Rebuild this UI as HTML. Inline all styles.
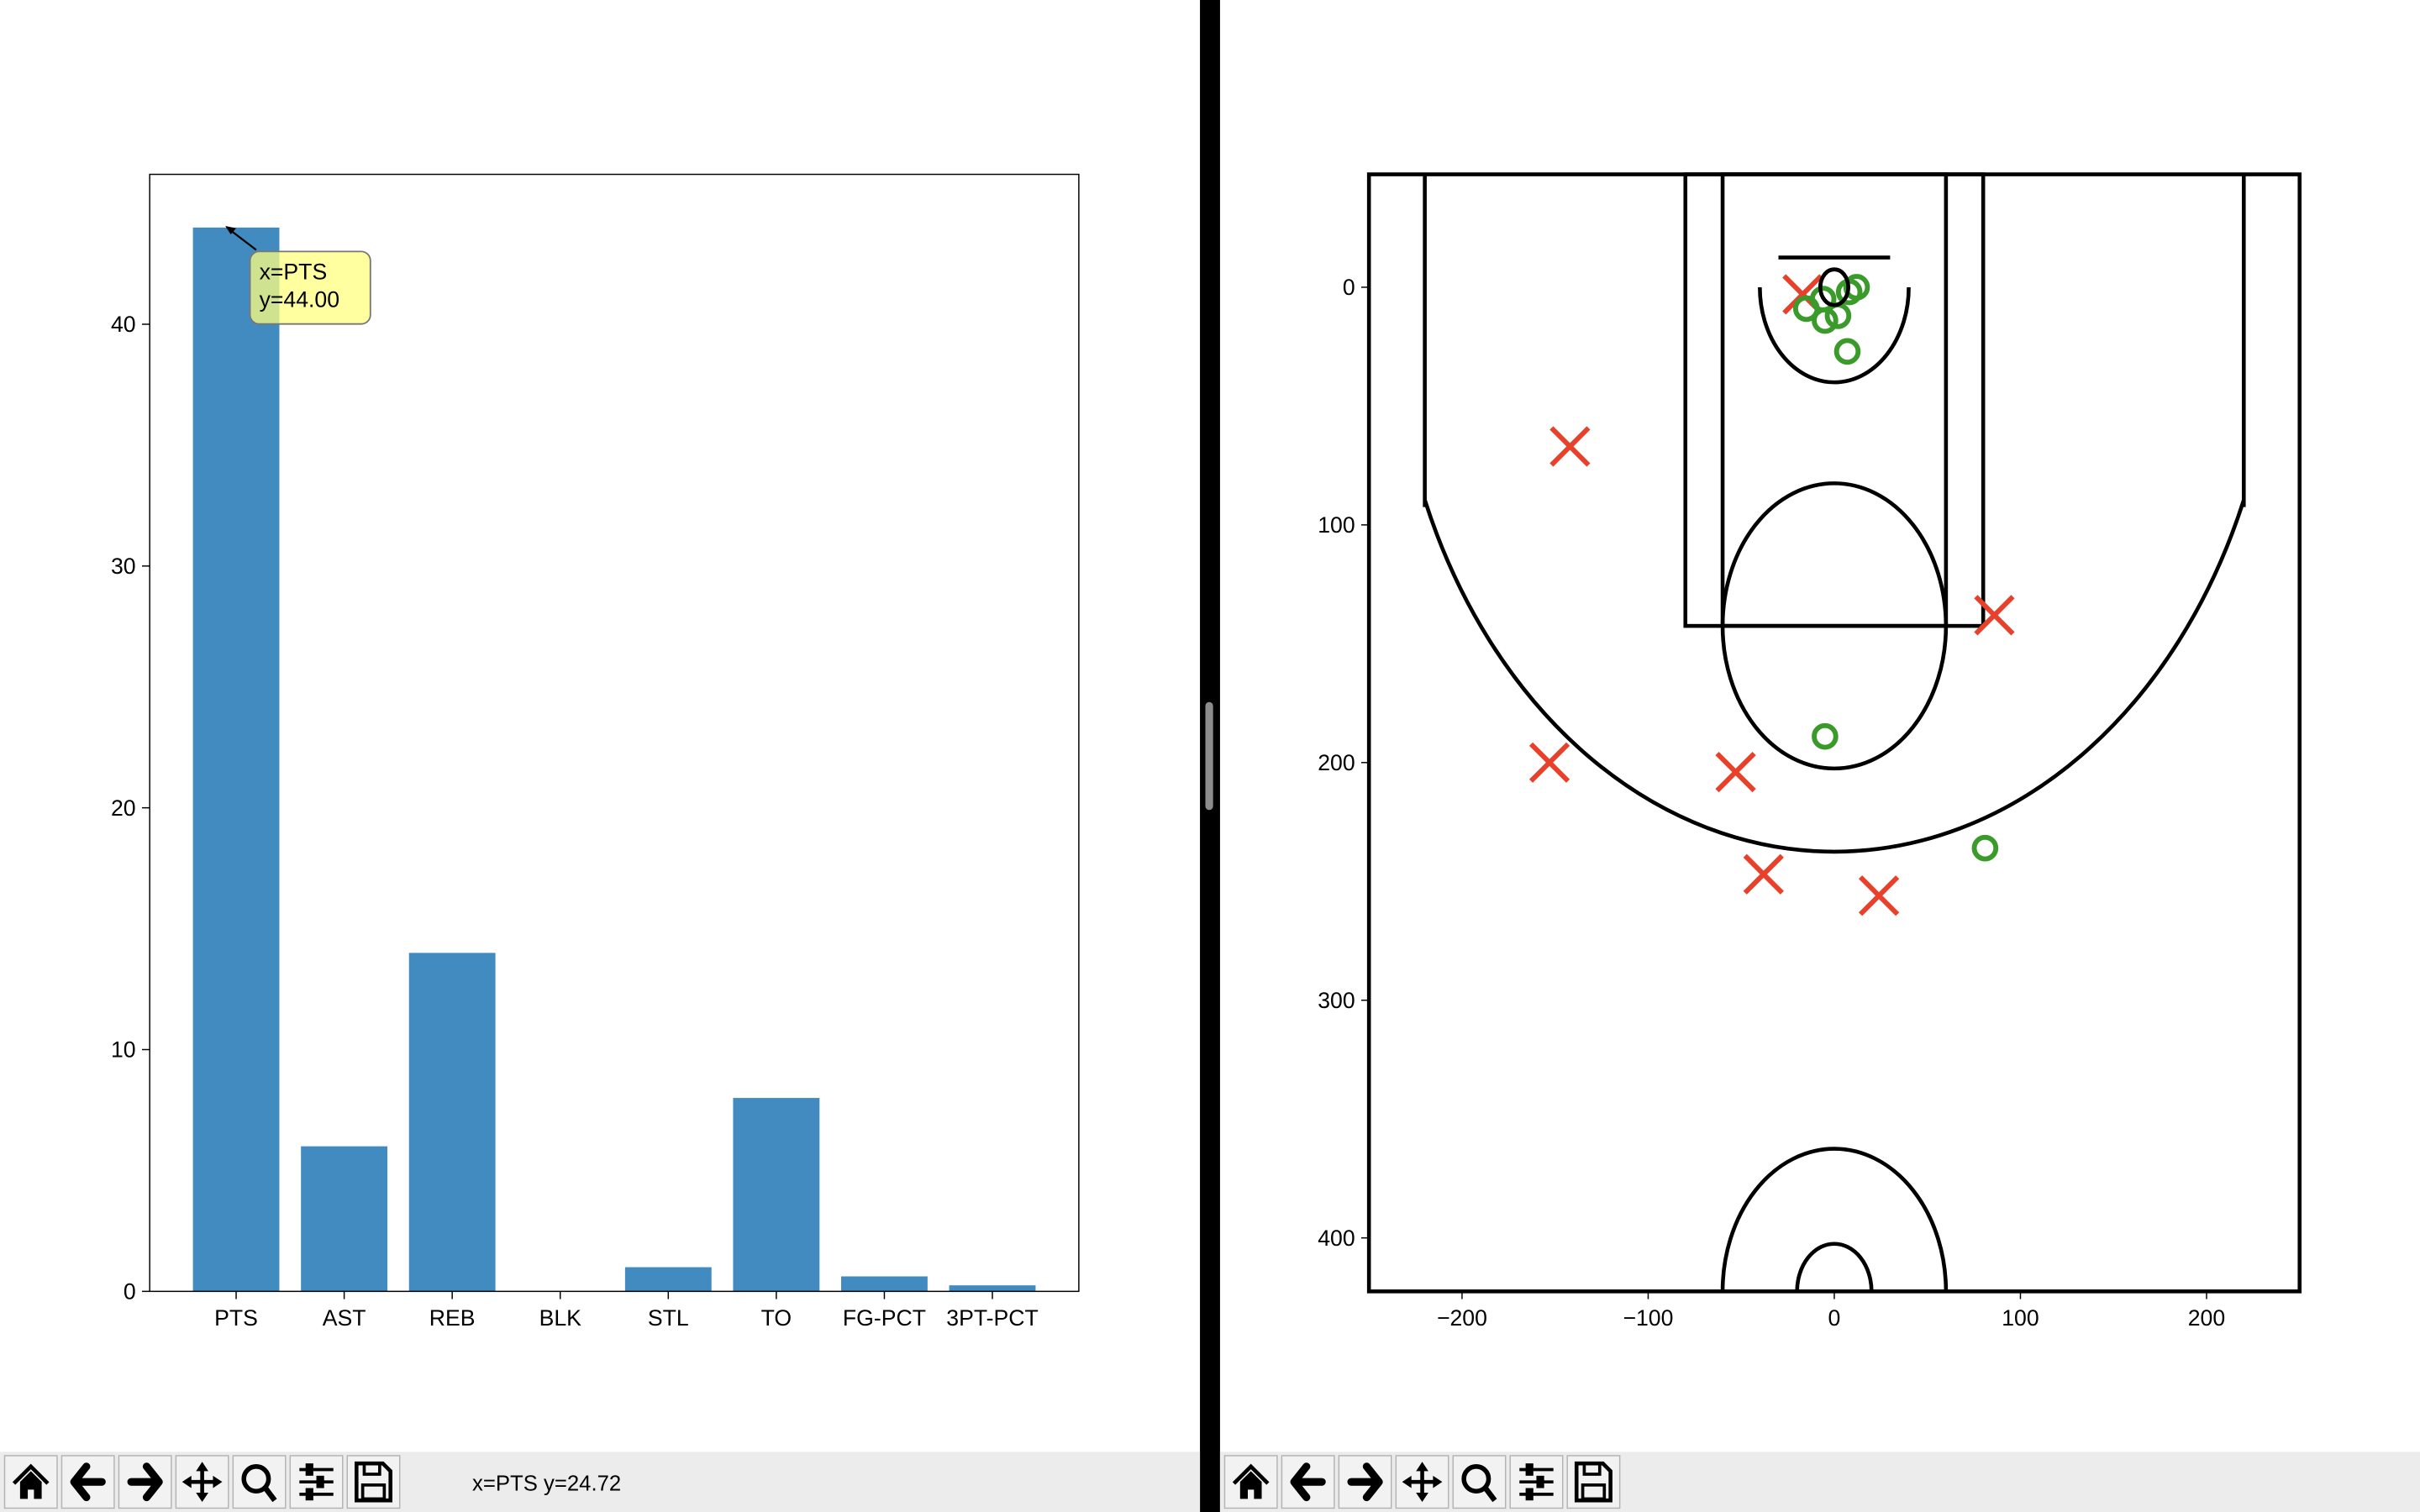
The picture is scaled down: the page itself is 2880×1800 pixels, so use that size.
<!DOCTYPE html>
<html><head><meta charset="utf-8"><style>
html,body{margin:0;padding:0;background:#fff;overflow:hidden}
svg{display:block}
text{font-family:"Liberation Sans","DejaVu Sans",sans-serif}
</style></head><body>
<svg id="s" width="2880" height="1800" viewBox="0 0 1568 980" xmlns="http://www.w3.org/2000/svg">
<rect x="0" y="0" width="1568" height="980" fill="#fff"/>
<g id="left"></g>
<g id="right"></g>
<rect x="777.5" y="0" width="13" height="980" fill="#000"/>
<rect x="781" y="455" width="5" height="70" rx="2.5" fill="#8c8c8c"/>
<g id="tb"></g>
</svg>
<script>
const NS='http://www.w3.org/2000/svg';
function mk(p,tag,a,txt){const e=document.createElementNS(NS,tag);for(const k in a)e.setAttribute(k,a[k]);if(txt!==undefined)e.textContent=txt;p.appendChild(e);return e;}

// ---- bar chart data ----
const categories=['PTS','AST','REB','BLK','STL','TO','FG-PCT','3PT-PCT'];
const values=[44,6,14,0,1,8,0.62,0.25];
const yTicks=[0,10,20,30,40];

const L=document.getElementById('left');
const ax={x0:97,x1:699,y0:113,y1:837};
const xmin=-0.8,xmax=7.8,ymin=0,ymax=46.2;
const bx=v=>ax.x0+(v-xmin)/(xmax-xmin)*(ax.x1-ax.x0);
const by=v=>ax.y1-(v-ymin)/(ymax-ymin)*(ax.y1-ax.y0);
categories.forEach((c,i)=>{
  const r=mk(L,'rect',{x:bx(i-0.4),y:by(values[i]),width:bx(i+0.4)-bx(i-0.4),height:by(0)-by(values[i]),fill:'#428bc0'});
  
  
  mk(L,'line',{x1:bx(i),x2:bx(i),y1:ax.y1,y2:ax.y1+5,stroke:'#000','stroke-width':0.8});
  const t=mk(L,'text',{x:bx(i),y:ax.y1+22,'font-size':14.5,'text-anchor':'middle'},c);
  
  
});
yTicks.forEach(v=>{
  mk(L,'line',{x1:ax.x0-5,x2:ax.x0,y1:by(v),y2:by(v),stroke:'#000','stroke-width':0.8});
  const t=mk(L,'text',{x:ax.x0-9,y:by(v)+5,'font-size':14.5,'text-anchor':'end'},String(v));
  
  
});
mk(L,'rect',{x:ax.x0,y:ax.y0,width:ax.x1-ax.x0,height:ax.y1-ax.y0,fill:'none',stroke:'#000','stroke-width':0.8});
// annotation
const ann=mk(L,'g',{});


mk(ann,'line',{x1:166,y1:162,x2:bx(0)-6,y2:by(values[0]),stroke:'#000','stroke-width':1.2});
mk(ann,'path',{d:`M${bx(0)-7},${by(values[0])-1} l7,1.5 l-3.5,4 z`,fill:'#000'});
mk(ann,'rect',{x:162,y:163,width:78,height:47,rx:6,fill:'#ffff80','fill-opacity':0.75,stroke:'#777','stroke-width':1});
mk(ann,'text',{x:168,y:181,'font-size':14.5},'x=PTS');
mk(ann,'text',{x:168,y:199,'font-size':14.5},'y='+values[0].toFixed(2));

// ---- shot chart data ----
const madeX=[-5,81,12,-15,-5,2,7,-6,8];
const madeY=[189,236,0,9,14,12,27,5,2];
const missX=[-142,86,-153,-53,-38,24,-17];
const missY=[67,138,200,204,247,256,3];
const xTicks=[-200,-100,0,100,200];
const yTicksR=[0,100,200,300,400];

const R=document.getElementById('right');
const ar={x0:887,x1:1490,y0:113,y1:837};
const cxmin=-250,cxmax=250,cymin=-47.5,cymax=422.5;
const sx=v=>ar.x0+(v-cxmin)/(cxmax-cxmin)*(ar.x1-ar.x0);
const sy=v=>ar.y0+(v-cymin)/(cymax-cymin)*(ar.y1-ar.y0);
const kx=(ar.x1-ar.x0)/(cxmax-cxmin), ky=(ar.y1-ar.y0)/(cymax-cymin);
const court=mk(R,'g',{fill:'none',stroke:'#000','stroke-width':2.5});


function rectD(x1,y1,x2,y2){mk(court,'rect',{x:sx(x1),y:sy(y1),width:sx(x2)-sx(x1),height:sy(y2)-sy(y1)});}
function ell(cx,cy,r){mk(court,'ellipse',{cx:sx(cx),cy:sy(cy),rx:r*kx,ry:r*ky});}
function arc(cx,cy,r,a0,a1){ // degrees, 0 = +x, 90 = +y (down court)
  const p=a=>[sx(cx+r*Math.cos(a*Math.PI/180)),sy(cy+r*Math.sin(a*Math.PI/180))];
  const [x0,y0]=p(a0),[x1,y1]=p(a1);
  const large=Math.abs(a1-a0)>180?1:0;
  mk(court,'path',{d:`M${x0},${y0} A${r*kx},${r*ky} 0 ${large} ${a1>a0?1:0} ${x1},${y1}`});
}
ell(0,0,7.5);
mk(court,'line',{x1:sx(-30),x2:sx(30),y1:sy(-12.5),y2:sy(-12.5)});
arc(0,0,40,0,180);
rectD(-80,-47.5,80,142.5);
rectD(-60,-47.5,60,142.5);
ell(0,142.5,60);
mk(court,'line',{x1:sx(-220),x2:sx(-220),y1:sy(-47.5),y2:sy(92.5)});
mk(court,'line',{x1:sx(220),x2:sx(220),y1:sy(-47.5),y2:sy(92.5)});
const a3=Math.acos(220/237.5)*180/Math.PI;
arc(0,0,237.5,a3,180-a3);
arc(0,422.5,60,180,360);
arc(0,422.5,20,180,360);
rectD(-250,-47.5,250,422.5);
missX.forEach((x,i)=>{
  const g=mk(R,'g',{stroke:'#e8402a','stroke-width':3.2});
  
  
  const X=sx(x),Y=sy(missY[i]),d=12;
  mk(g,'line',{x1:X-d,y1:Y-d,x2:X+d,y2:Y+d});mk(g,'line',{x1:X-d,y1:Y+d,x2:X+d,y2:Y-d});
});
madeX.forEach((x,i)=>{
  const c=mk(R,'circle',{cx:sx(x),cy:sy(madeY[i]),r:7,fill:'none',stroke:'#3a9a2a','stroke-width':3.2});
  
  
});
mk(R,'ellipse',{cx:sx(0),cy:sy(0),rx:7.5*kx,ry:7.5*ky,fill:'none',stroke:'#000','stroke-width':2.5});
xTicks.forEach(v=>{
  mk(R,'line',{x1:sx(v),x2:sx(v),y1:ar.y1,y2:ar.y1+5,stroke:'#000','stroke-width':0.8});
  const t=mk(R,'text',{x:sx(v),y:ar.y1+22,'font-size':14.5,'text-anchor':'middle'},v<0?'\u2212'+(-v):String(v));
  
  
});
yTicksR.forEach(v=>{
  mk(R,'line',{x1:ar.x0-5,x2:ar.x0,y1:sy(v),y2:sy(v),stroke:'#000','stroke-width':0.8});
  const t=mk(R,'text',{x:ar.x0-9,y:sy(v)+5,'font-size':14.5,'text-anchor':'end'},String(v));
  
  
});

// ---- toolbars ----
const TB=document.getElementById('tb');
const names=['home','back','forward','pan','zoom','configure','save'];
function icon(g,n,cx,cy){
  const f={fill:'#000'};
  if(n==='home'){mk(g,'path',{d:`M${cx-11},${cy+1} L${cx},${cy-10} L${cx+11},${cy+1}`,fill:'none',stroke:'#000','stroke-width':2.5});mk(g,'path',{d:`M${cx-7},${cy} L${cx},${cy-7} L${cx+7},${cy} V${cy+11} H${cx+2} V${cy+5} H${cx-2} V${cy+11} H${cx-7}Z`,...f});}
  else if(n==='back'){mk(g,'path',{d:`M${cx+9},${cy} H${cx-7} M${cx-1},${cy-10} L${cx-9},${cy} L${cx-1},${cy+10}`,fill:'none',stroke:'#000','stroke-width':5,'stroke-linecap':'round','stroke-linejoin':'round'});}
  else if(n==='forward'){mk(g,'path',{d:`M${cx-9},${cy} H${cx+7} M${cx+1},${cy-10} L${cx+9},${cy} L${cx+1},${cy+10}`,fill:'none',stroke:'#000','stroke-width':5,'stroke-linecap':'round','stroke-linejoin':'round'});}
  else if(n==='pan'){mk(g,'path',{d:`M${cx},${cy-11} V${cy+11} M${cx-11},${cy} H${cx+11}`,stroke:'#000','stroke-width':2.5});
    [[0,-13,-4,-7,4,-7],[0,13,-4,7,4,7],[-13,0,-7,-4,-7,4],[13,0,7,-4,7,4]].forEach(a=>mk(g,'path',{d:`M${cx+a[0]},${cy+a[1]} L${cx+a[2]},${cy+a[3]} L${cx+a[4]},${cy+a[5]}Z`,...f}));}
  else if(n==='zoom'){mk(g,'circle',{cx:cx-2,cy:cy-2,r:8,fill:'none',stroke:'#000','stroke-width':3});mk(g,'line',{x1:cx+4,y1:cy+4,x2:cx+10,y2:cy+12,stroke:'#000','stroke-width':3.5});}
  else if(n==='configure'){[-8,0,8].forEach((d,i)=>{mk(g,'line',{x1:cx-11,x2:cx+11,y1:cy+d,y2:cy+d,stroke:'#000','stroke-width':2});mk(g,'rect',{x:cx+[-5,2,-5][i]-2,y:cy+d-4,width:5,height:8,...f});});}
  else if(n==='save'){mk(g,'path',{d:`M${cx-11},${cy-12} H${cx+6} L${cx+11},${cy-7} V${cy+12} H${cx-11}Z`,fill:'none',stroke:'#000','stroke-width':2.5});mk(g,'rect',{x:cx-6,y:cy-12,width:10,height:7,fill:'none',stroke:'#000','stroke-width':2});mk(g,'rect',{x:cx-7,y:cy+2,width:14,height:9,fill:'none',stroke:'#000','stroke-width':2});}
}
[[0,777.5],[790.5,1568]].forEach((seg,k)=>{
  const bar=mk(TB,'g',{});
  
  
  mk(bar,'rect',{x:seg[0],y:941,width:seg[1]-seg[0],height:39,fill:'#ececec'});
  names.forEach((n,i)=>{
    const x=seg[0]+3+i*37;
    const b=mk(bar,'g',{});
    
    
    mk(b,'rect',{x:x,y:943.5,width:34,height:34,fill:'#f2f2f2',stroke:'#b4b4b4','stroke-width':0.8});
    icon(b,n,x+17,960.5);
  });
});
const st=mk(TB,'text',{x:306,y:966,'font-size':14},'x=PTS y=24.72');


</script>
</body></html>
